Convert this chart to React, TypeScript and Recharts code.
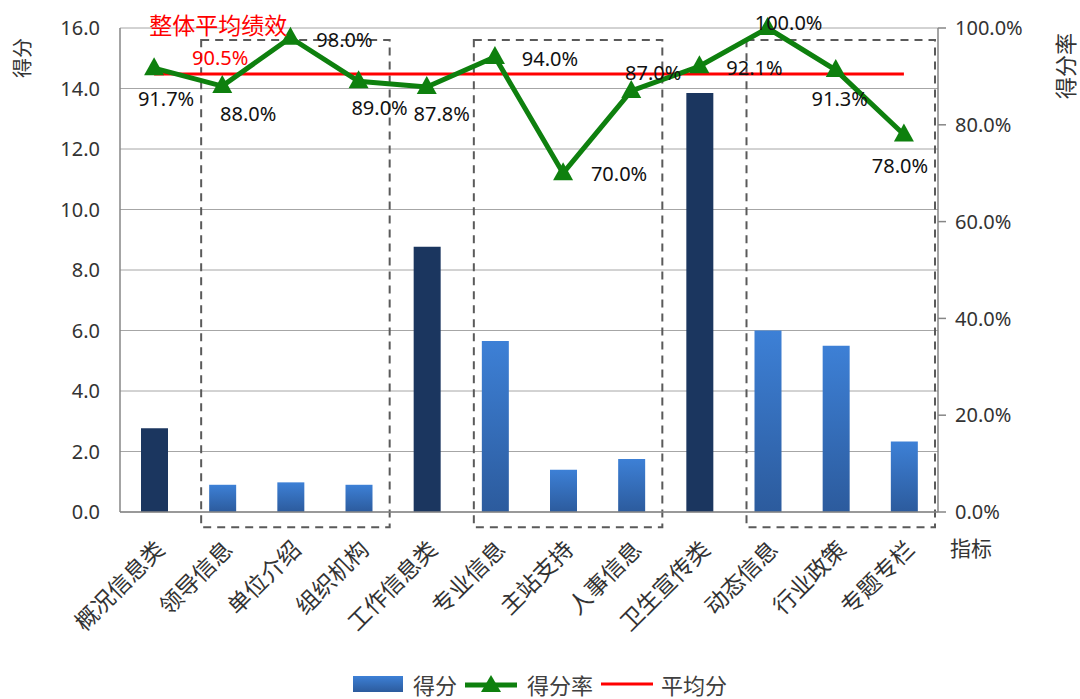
import React from 'react';
import {
  ComposedChart,
  Bar,
  Line,
  XAxis,
  YAxis,
  CartesianGrid,
  Cell,
  LabelList,
  ReferenceArea,
  Legend,
} from 'recharts';

// ---------- data ----------
const categories = ['概况信息类', '领导信息', '单位介绍', '组织机构', '工作信息类', '专业信息', '主站支持', '人事信息', '卫生宣传类', '动态信息', '行业政策', '专题专栏'];
const levels = ['group', 'item', 'item', 'item', 'group', 'item', 'item', 'item', 'group', 'item', 'item', 'item'];
const scores = [2.77, 0.9, 0.98, 0.9, 8.77, 5.65, 1.4, 1.75, 13.85, 6.0, 5.5, 2.33];
const rates = [91.7, 88.0, 98.0, 89.0, 87.8, 94.0, 70.0, 87.0, 92.1, 100.0, 91.3, 78.0];
const averageRate = 90.5;
const leftTicks = [0, 2, 4, 6, 8, 10, 12, 14, 16];
const rightTicks = [0, 20, 40, 60, 80, 100];
const groupBoxes = [
  { from: '领导信息', to: '组织机构' },
  { from: '专业信息', to: '人事信息' },
  { from: '动态信息', to: '专题专栏' },
];

const chartData = categories.map((name, i) => ({
  name,
  level: levels[i],
  score: scores[i],
  rate: rates[i],
  avg: averageRate,
}));

// ---------- styles ----------
const CJK = "'Noto Sans CJK SC', 'Noto Sans', sans-serif";
const NUM = "'Noto Sans', 'Noto Sans CJK SC', sans-serif";
const AXIS = '#868686';
const GREEN = '#0e800e';
const RED = '#ff0000';
const DARK = '#1b365f';
const rateLabelOffsets = [
  [12, 30], [26, 27], [54, 2], [21, 26], [15, 26], [55, 1],
  [56, 0], [22, -18], [55, 1], [21, -6], [4, 28], [-4, 31],
];

const XTick = (props: any) => {
  const { x, y, payload } = props;
  const px = x + 12;
  const py = y + 31;
  return (
    <text
      x={px}
      y={py}
      transform={`rotate(-45 ${px} ${py})`}
      textAnchor="end"
      fontSize={23}
      fontFamily={CJK}
      fill="#333"
    >
      {payload.value}
    </text>
  );
};

const Triangle = (props: any) => {
  const { cx, cy, index } = props;
  if (cx == null || cy == null) return <g key={`t-${index}`} />;
  return (
    <polygon
      key={`t-${index}`}
      points={`${cx},${cy - 11} ${cx - 10},${cy + 7} ${cx + 10},${cy + 7}`}
      fill={GREEN}
    />
  );
};

const RateLabel = (props: any) => {
  const { index, value } = props;
  const x = props.x ?? props.viewBox?.x;
  const y = props.y ?? props.viewBox?.y;
  if (x == null || y == null) return null;
  const [dx, dy] = rateLabelOffsets[index] || [0, -15];
  return (
    <text
      x={x + dx}
      y={y + dy}
      textAnchor="middle"
      dominantBaseline="central"
      fontSize={20}
      fontFamily={NUM}
      fill="#111"
    >
      {`${Number(value).toFixed(1)}%`}
    </text>
  );
};

const AvgLabel = (props: any) => {
  const { index, value } = props;
  const x = props.x ?? props.viewBox?.x;
  const y = props.y ?? props.viewBox?.y;
  if (index !== 1 || x == null || y == null) return null;
  return (
    <g>
      <text x={x - 2} y={y - 16} textAnchor="middle" dominantBaseline="central" fontSize={20} fontFamily={NUM} fill={RED}>
        {`${Number(value).toFixed(1)}%`}
      </text>
      <text x={x - 4} y={y - 50} textAnchor="middle" dominantBaseline="central" fontSize={23} fontFamily={CJK} fill={RED}>
        整体平均绩效
      </text>
    </g>
  );
};

const BoxShape = (props: any) => {
  const { x, y, width, height } = props;
  if (x == null) return null;
  return (
    <rect
      x={x + 13}
      y={y}
      width={width - 16}
      height={height}
      fill="none"
      stroke="#5a5a5a"
      strokeWidth={2}
      strokeDasharray="8 6"
    />
  );
};

const LegendContent = () => (
  <div
    style={{
      display: 'flex',
      justifyContent: 'center',
      alignItems: 'flex-end',
      height: 47,
      fontFamily: CJK,
      fontSize: 22,
      color: '#404040',
      lineHeight: '30px',
    }}
  >
    <div style={{ display: 'flex', alignItems: 'center' }}>
      <svg width={50} height={18} style={{ marginRight: 10 }}>
        <rect x={0} y={1} width={50} height={16} fill="url(#barGrad)" />
      </svg>
      <span style={{ marginRight: 8 }}>得分</span>
      <svg width={52} height={20} style={{ marginRight: 10 }}>
        <line x1={0} y1={11} x2={52} y2={11} stroke={GREEN} strokeWidth={5} />
        <polygon points="26,1 16,18 36,18" fill={GREEN} />
      </svg>
      <span style={{ marginRight: 8 }}>得分率</span>
      <svg width={52} height={20} style={{ marginRight: 8 }}>
        <line x1={0} y1={10} x2={52} y2={10} stroke={RED} strokeWidth={3} />
      </svg>
      <span>平均分</span>
    </div>
  </div>
);

export default function App() {
  return (
    <div style={{ position: 'absolute', left: 0, top: 0, width: 1080, height: 699, background: '#fff' }}>
      <ComposedChart
        width={1080}
        height={699}
        data={chartData}
        margin={{ top: 28, left: 60, right: 62, bottom: 0 }}
      >
        <defs>
          <linearGradient id="barGrad" x1="0" y1="0" x2="0" y2="1">
            <stop offset="0%" stopColor="#3d80d6" />
            <stop offset="100%" stopColor="#2c5b9d" />
          </linearGradient>
        </defs>
        <CartesianGrid vertical={false} stroke="#a6a6a6" yAxisId="left" />
        <XAxis
          dataKey="name"
          interval={0}
          height={140}
          axisLine={{ stroke: AXIS, strokeWidth: 1.5 }}
          tickLine={false}
          tick={<XTick />}
          label={{
            content: (p: any) => {
              const vb = p.viewBox || { x: 120, y: 512, width: 818 };
              return (
                <text x={vb.x + vb.width + 12} y={vb.y + 44} fontSize={21} fontFamily={CJK} fill="#333">
                  指标
                </text>
              );
            },
          }}
        />
        <YAxis
          yAxisId="left"
          width={60}
          domain={[0, 16]}
          ticks={leftTicks}
          tickFormatter={(v: number) => v.toFixed(1)}
          axisLine={{ stroke: AXIS, strokeWidth: 1.5 }}
          tickLine={false}
          tickSize={0}
          tickMargin={20}
          tick={{ fontSize: 20, fontFamily: NUM, fill: '#333' }}
          label={{
            content: () => (
              <text x={30} y={58} transform="rotate(-90 30 58)" textAnchor="middle" fontSize={20} fontFamily={CJK} fill="#333">
                得分
              </text>
            ),
          }}
        />
        <YAxis
          yAxisId="rate"
          orientation="right"
          width={80}
          domain={[0, 100]}
          ticks={rightTicks}
          tickFormatter={(v: number) => `${v.toFixed(1)}%`}
          axisLine={{ stroke: AXIS, strokeWidth: 1.5 }}
          tickLine={{ stroke: AXIS, strokeWidth: 1.5 }}
          tickSize={8}
          tickMargin={9}
          tick={{ fontSize: 20, fontFamily: NUM, fill: '#333' }}
          label={{
            content: () => (
              <text x={1074} y={66} transform="rotate(-90 1074 66)" textAnchor="middle" fontSize={22} fontFamily={CJK} fill="#333">
                得分率
              </text>
            ),
          }}
        />
        <Bar dataKey="score" yAxisId="left" barSize={27} isAnimationActive={false} name="得分">
          {chartData.map((d, i) => (
            <Cell key={`c-${i}`} fill={d.level === 'group' ? DARK : 'url(#barGrad)'} />
          ))}
        </Bar>
        {groupBoxes.map((b, i) => (
          <ReferenceArea
            key={`box-${i}`}
            yAxisId="left"
            x1={b.from}
            x2={b.to}
            y1={-0.5}
            y2={15.6}
            ifOverflow="visible"
            shape={<BoxShape />}
          />
        ))}
        <Line
          dataKey="avg"
          yAxisId="rate"
          stroke={RED}
          strokeWidth={3}
          dot={false}
          activeDot={false}
          isAnimationActive={false}
          name="平均分"
        >
          <LabelList dataKey="avg" content={<AvgLabel />} />
        </Line>
        <Line
          dataKey="rate"
          yAxisId="rate"
          stroke={GREEN}
          strokeWidth={5}
          dot={<Triangle />}
          activeDot={false}
          isAnimationActive={false}
          name="得分率"
        >
          <LabelList dataKey="rate" content={<RateLabel />} />
        </Line>
        <Legend
          verticalAlign="bottom"
          content={<LegendContent />}
          wrapperStyle={{ left: 0, width: 1080, height: 47, bottom: 0 }}
        />
      </ComposedChart>
    </div>
  );
}
